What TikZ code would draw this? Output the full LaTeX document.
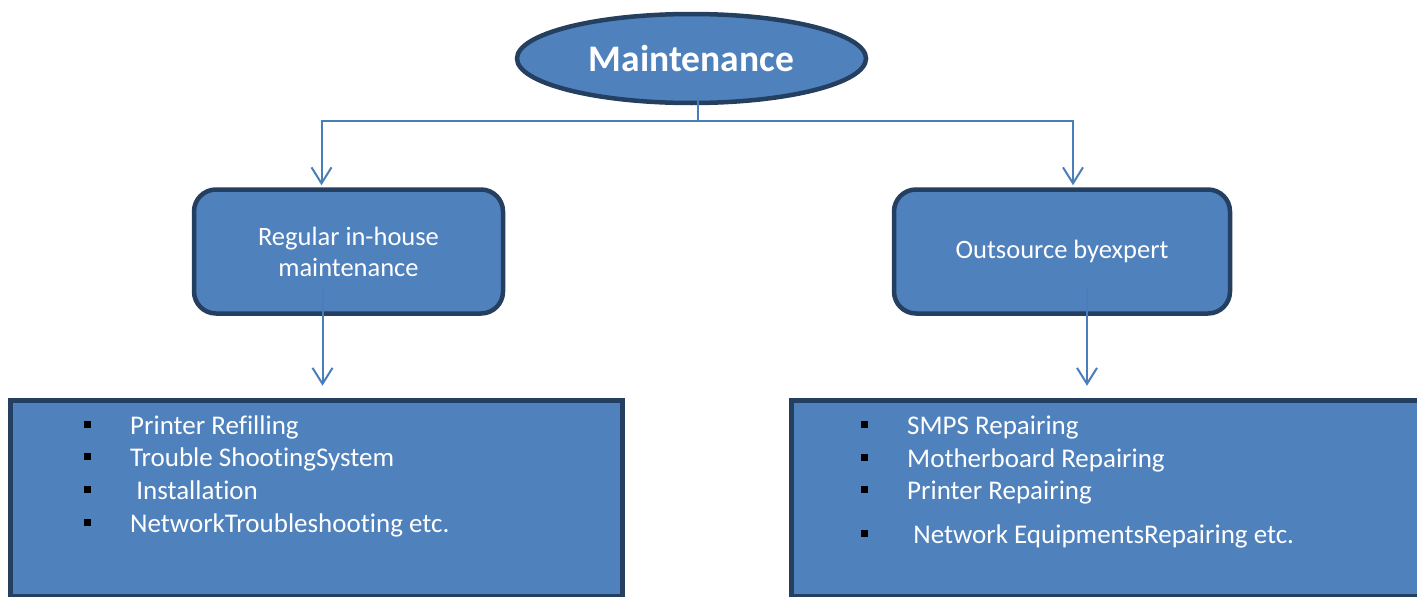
\documentclass[tikz,border=0pt]{standalone}
\usepackage{fontspec}
\setmainfont{Carlito}[Ligatures=NoCommon]
\usepackage{xcolor}
\usetikzlibrary{arrows.meta,positioning,shapes.geometric}

\definecolor{boxblue}{HTML}{4F81BD}
\definecolor{boxedge}{HTML}{243F60}
\definecolor{linkblue}{HTML}{4A7EBB}
\newcommand{\blt}{\makebox[46pt][l]{{\color{black}\rule[6.5pt]{7pt}{7pt}}}}

\begin{document}
\begin{tikzpicture}[
  x=1pt, y=-1pt,
  font=\fontsize{26.5}{31}\selectfont,
  root/.style={ellipse, draw=boxedge, fill=boxblue, line width=4.5pt, minimum width=349pt, minimum height=89pt, inner sep=0pt, text=white, font=\fontsize{37.5}{43}\selectfont\bfseries},
  cat/.style={draw=boxedge, fill=boxblue, line width=4.5pt, rounded corners=22pt, minimum height=124pt, inner sep=0pt, text=white, align=center},
  lst/.style={draw=boxedge, fill=boxblue, line width=5pt, minimum height=196pt, inner sep=0pt},
  item/.style={anchor=base west, text=white, inner sep=0pt, font=\fontsize{27}{31}\selectfont},
  link/.style={draw=linkblue, line width=2pt},
  >={Straight Barb[length=16pt,width=20pt]},
  node distance=82pt,
]
\useasboundingbox (0,0) rectangle (1417,597);

\node[root] (root) at (691.5,58.5) {Maintenance};
\node[cat, minimum width=309pt, below=of root, xshift=-343pt] (reg) {Regular in-house\\maintenance};
\node[cat, minimum width=336pt, below=of root, xshift=370.5pt] (out) {Outsource byexpert};

\node[lst, minimum width=612pt, below=of reg, xshift=-32.5pt] (inhouse) {};
\node[lst, minimum width=660pt, below=of out, xshift=59pt] (expert) {};

\foreach \t [count=\i] in {Printer Refilling, Trouble ShootingSystem, {\ Installation}, NetworkTroubleshooting etc.}
  { \node[item] (l\i) at (84,{434+32.7*(\i-1)}) {\blt\t}; }
\foreach \t/\yy [count=\i] in {SMPS Repairing/434, Motherboard Repairing/467, Printer Repairing/499, {\ Network EquipmentsRepairing etc.}/543}
  { \node[item] (r\i) at (861,\yy) {\blt\t}; }

% tree links
\coordinate (fork) at ([xshift=6pt,yshift=-16pt]root.south);
\draw[link] ([xshift=6pt,yshift=8pt]root.south) -- (fork);
\draw[link,->] (fork) -| ([xshift=-27pt,yshift=2pt]reg.north);
\draw[link,->] (fork) -| ([xshift=11pt,yshift=2pt]out.north);
\draw[link,->] ([xshift=-26pt,yshift=28pt]reg.south) -- ([xshift=-26pt,yshift=12pt]reg.south |- inhouse.north);
\draw[link,->] ([xshift=25pt,yshift=28pt]out.south) -- ([xshift=25pt,yshift=12pt]out.south |- expert.north);
\end{tikzpicture}
\end{document}
